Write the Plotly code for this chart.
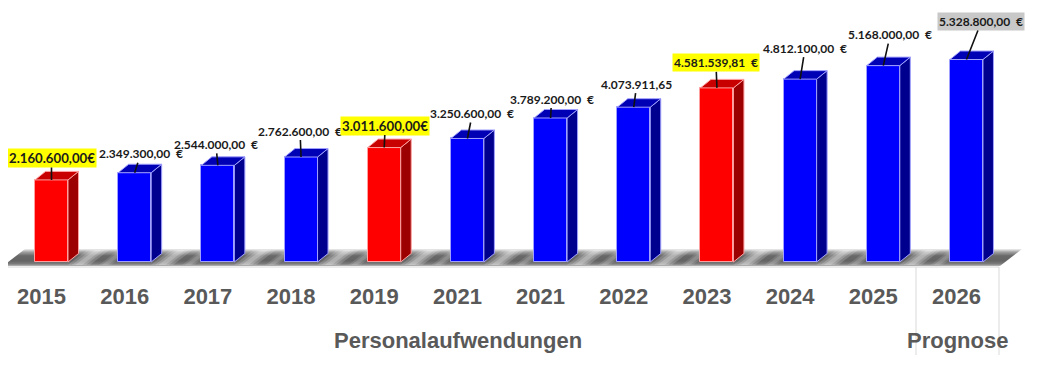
import plotly.graph_objects as go

# ---------------- data ----------------
years = ["2015", "2016", "2017", "2018", "2019", "2021", "2021", "2022", "2023", "2024", "2025", "2026"]
values = [2160600.00, 2349300.00, 2544000.00, 2762600.00, 3011600.00, 3250600.00,
          3789200.00, 4073911.65, 4581539.81, 4812100.00, 5168000.00, 5328800.00]
label_suffix = ["€", "\u00a0\u00a0€", "\u00a0\u00a0€", "\u00a0\u00a0€", "€", "\u00a0\u00a0€",
                "\u00a0\u00a0€", "", "\u00a0\u00a0€", "\u00a0\u00a0€", "\u00a0\u00a0€", "\u00a0\u00a0€"]
group_labels = ["Personalaufwendungen", "Prognose"]

# ---------------- styles ----------------
bar_kind = ["red", "blue", "blue", "blue", "red", "blue", "blue", "blue", "red", "blue", "blue", "blue"]
label_bg = ["#FFFF00", None, None, None, "#FFFF00", None, None, None, "#FFFF00", None, None, "#C8C8C8"]
label_size = [13.2, 12, 12, 12, 13.2, 12, 12, 12, 12, 12, 12, 12]
label_dx = [0, 6, -2, -1, 1, 5, 1, 3, -1, 5, 7, 15]
label_dy = [-22, -19, -21, -26, -22, -25, -19, -23, -25, -31, -31, -38]

FRONT = {"red": "#FF0000", "blue": "#0000FF"}
TOP = {"red": "#C80000", "blue": "#0000B4"}
SIDE = {"red": "#9C0000", "blue": "#00008E"}
EDGE = {"red": "#FFA0A0", "blue": "#A0A0FF"}

OFF = 8                      # page body margin of the browser
W, H = 1050 - 2 * OFF, 380 - 2 * OFF
AXIS_PX = 267                # reference-pixel y of the category axis line
plot_h = AXIS_PX - OFF
MB = H - plot_h
PX_PER_CAT = 83.18
X0_PX = 51.5 - OFF           # figure pixel of category 0
PX_PER_UNIT_Y = 38.0 / 1e6
ZERO_PX = 262 - OFF          # figure pixel of value 0
x_range = [-X0_PX / PX_PER_CAT, (W - X0_PX) / PX_PER_CAT]
y_range = [-(plot_h - ZERO_PX) / PX_PER_UNIT_Y, ZERO_PX / PX_PER_UNIT_Y]


def ref_x(px):      # reference pixel x -> data x
    return (px - OFF - X0_PX) / PX_PER_CAT


def ref_y(py):      # reference pixel y -> data y
    return (ZERO_PX - (py - OFF)) / PX_PER_UNIT_Y


def ref_px_paper_x(px):
    return (px - OFF) / W


def ref_px_paper_y(py):
    return (plot_h - (py - OFF)) / plot_h


bar_w = 33 / PX_PER_CAT
dx = 10.5 / PX_PER_CAT
dy = 8.5 / PX_PER_UNIT_Y

xs = list(range(len(values)))

fig = go.Figure()

# ---------------- floor (decoration) ----------------
floor_front_y = ref_y(266)
floor_back_y = ref_y(249)
floor_left = ref_x(3)
floor_right = ref_x(1000)
floor_dx = 22 / PX_PER_CAT
profile = [(0.0, 185), (0.12, 125), (0.3, 100), (0.6, 105), (0.82, 160), (1.0, 240)]


def gray_at(t):
    for (t0, g0), (t1, g1) in zip(profile[:-1], profile[1:]):
        if t0 <= t <= t1:
            g = int(round(g0 + (g1 - g0) * (t - t0) / (t1 - t0)))
            return f"rgb({g},{g},{g})"
    return "rgb(240,240,240)"


n_strips = 17
shapes = []
for k in range(n_strips):
    t0, t1 = k / n_strips, (k + 1) / n_strips
    ya = floor_front_y + t0 * (floor_back_y - floor_front_y)
    yb = floor_front_y + t1 * (floor_back_y - floor_front_y)
    xa, xb = t0 * floor_dx, t1 * floor_dx
    path = (f"M {floor_left + xa},{ya} L {floor_right + xa},{ya} "
            f"L {floor_right + xb},{yb} L {floor_left + xb},{yb} Z")
    shapes.append(dict(type="path", path=path, xref="x", yref="y", fillcolor=gray_at((t0 + t1) / 2),
                       line=dict(width=0), layer="below"))

# soft light diagonal streaks on the floor between bars (layered for a blurred look)
streaks = [(10, 22, 0.18), (10, 14, 0.2), (10, 7, 0.22), (36, 12, 0.12), (36, 6, 0.15)]  # (centre px, width px, opacity)
ya, yb = ref_y(265), ref_y(250)
ddx = floor_dx * 15 / 17
for i in xs[:-1]:
    base = i + bar_w / 2 + dx - ddx / 2
    for c0, sw, op in streaks:
        xl = base + (c0 - sw / 2) / PX_PER_CAT
        xr = xl + sw / PX_PER_CAT
        path = f"M {xl},{ya} L {xr},{ya} L {xr + ddx},{yb} L {xl + ddx},{yb} Z"
        shapes.append(dict(type="path", path=path, xref="x", yref="y",
                           fillcolor=f"rgba(255,255,255,{op})", line=dict(width=0), layer="below"))

# category frame lines
line_c = "#D9D9D9"
bot = ref_px_paper_y(355)
shapes.append(dict(type="line", xref="paper", yref="paper", x0=0, x1=ref_px_paper_x(999), y0=0, y1=0,
                   line=dict(color=line_c, width=1)))
for xp in (916, 999):
    shapes.append(dict(type="line", xref="paper", yref="paper", x0=ref_px_paper_x(xp),
                       x1=ref_px_paper_x(xp), y0=0, y1=bot, line=dict(color=line_c, width=1)))

# ---------------- bars: front faces ----------------
fig.add_trace(go.Bar(
    x=xs, y=values, width=bar_w,
    marker=dict(color=[FRONT[k] for k in bar_kind],
                line=dict(color=[EDGE[k] for k in bar_kind], width=1)),
    hoverinfo="skip", showlegend=False,
))

# ---------------- bars: side and top faces ----------------
for kind in ("red", "blue"):
    sx, sy, tx, ty = [], [], [], []
    for i, v in zip(xs, values):
        if bar_kind[i] != kind:
            continue
        r = i + bar_w / 2
        l = i - bar_w / 2
        sx += [r, r + dx, r + dx, r, r, None]
        sy += [0, dy, v + dy, v, 0, None]
        tx += [l, r, r + dx, l + dx, l, None]
        ty += [v, v, v + dy, v + dy, v, None]
    fig.add_trace(go.Scatter(x=sx, y=sy, mode="lines", fill="toself", fillcolor=SIDE[kind],
                             line=dict(color=EDGE[kind], width=1), hoverinfo="skip", showlegend=False))
    fig.add_trace(go.Scatter(x=tx, y=ty, mode="lines", fill="toself", fillcolor=TOP[kind],
                             line=dict(color=EDGE[kind], width=1), hoverinfo="skip", showlegend=False))


# ---------------- data labels ----------------
def fmt_de(v):
    s = f"{v:,.2f}"
    return s.replace(",", "X").replace(".", ",").replace("X", ".")


annotations = []
for i, v in zip(xs, values):
    annotations.append(dict(
        x=i, y=v, xref="x", yref="y",
        text=f"<b>{fmt_de(v)}{label_suffix[i]}</b>",
        showarrow=True, arrowhead=0, arrowwidth=1.6, arrowcolor="#111111",
        ax=label_dx[i], ay=label_dy[i], standoff=0,
        bgcolor=label_bg[i] if label_bg[i] else "rgba(0,0,0,0)",
        borderpad=1,
        font=dict(family="Lato, Liberation Sans, sans-serif", size=label_size[i], color="#1a1a1a"),
    ))

gl_pos = [457.5, 957]
for txt, xp in zip(group_labels, gl_pos):
    annotations.append(dict(
        x=ref_px_paper_x(xp), y=ref_px_paper_y(341), xref="paper", yref="paper",
        text=f"<b>{txt}</b>", showarrow=False, xanchor="center", yanchor="middle",
        font=dict(family="Liberation Sans, Arial, sans-serif", size=22, color="#595959"),
    ))

tick_shift = 10 / PX_PER_CAT
fig.update_layout(
    width=W, height=H,
    margin=dict(l=0, r=0, t=0, b=MB),
    paper_bgcolor="white", plot_bgcolor="white",
    showlegend=False,
    bargap=0,
    shapes=shapes,
    annotations=annotations,
    xaxis=dict(range=x_range, tickmode="array", tickvals=[i - tick_shift for i in xs],
               ticktext=[f"<b>{y}</b>" for y in years],
               tickfont=dict(family="Liberation Sans, Arial, sans-serif", size=22, color="#595959"),
               ticks="", ticklabelstandoff=14, showgrid=False, zeroline=False, showline=False,
               automargin=False, fixedrange=True),
    yaxis=dict(range=y_range, visible=False, showgrid=False, zeroline=False, fixedrange=True),
)

fig.write_html("out.html")
